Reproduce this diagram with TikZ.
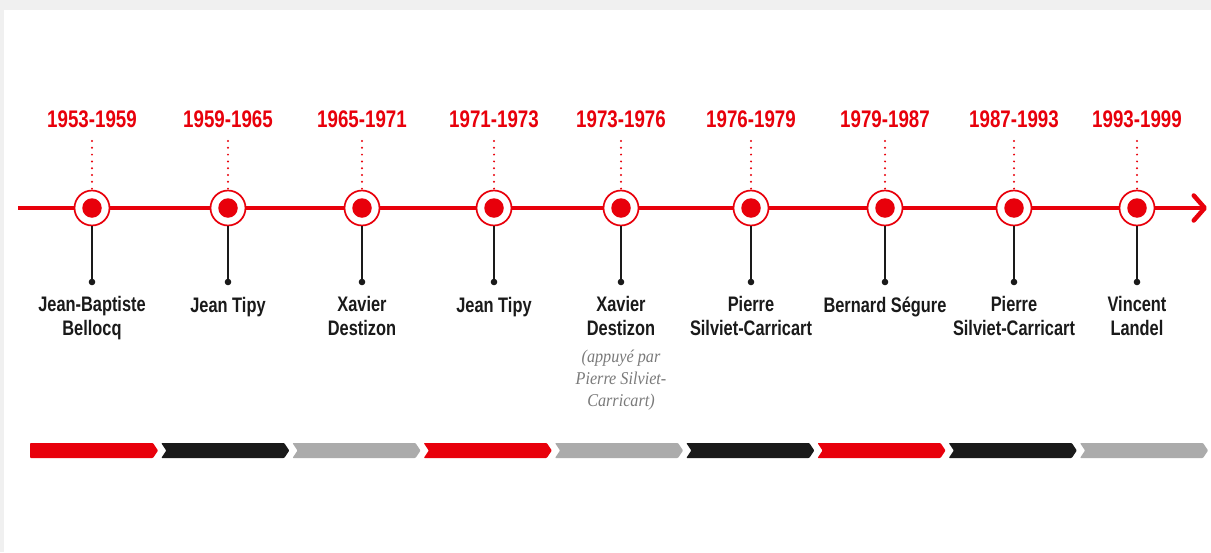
\documentclass[tikz,border=0pt]{standalone}
\usepackage{fontspec}
\setmainfont{Liberation Sans}
\newfontfamily\condfont[FakeStretch=0.78]{Liberation Sans}
\newfontfamily\notefont[FakeStretch=0.9]{Liberation Serif}
\usetikzlibrary{arrows.meta}
\definecolor{tlred}{HTML}{E8000B}
\definecolor{tlblack}{HTML}{1A1A1A}
\definecolor{tlgray}{HTML}{ABABAB}
\definecolor{notegray}{HTML}{7A7A7A}
\definecolor{framegray}{HTML}{F0F0F0}
\begin{document}
\begin{tikzpicture}[x=1pt,y=-1pt,
  year/.style={anchor=base, text=tlred, inner sep=0pt,
    font=\condfont\bfseries\fontsize{24}{28}\selectfont},
  person/.style={anchor=base, align=center, text=tlblack, inner sep=0pt,
    font=\condfont\bfseries\fontsize{21}{23.5}\selectfont},
  note/.style={anchor=base, align=center, text=notegray, inner sep=0pt,
    font=\notefont\itshape\fontsize{18}{22}\selectfont},
  ring/.style={circle, draw=tlred, line width=1.7pt, fill=white, minimum size=35pt, inner sep=0pt},
  core/.style={circle, fill=tlred, minimum size=19.5pt, inner sep=0pt},
  stem/.style={draw=tlblack, line width=1.8pt},
  tickline/.style={draw=tlred, line width=2.2pt, line cap=round, dash pattern=on 0pt off 6.8pt},
  axis/.style={draw=tlred, line width=4.5pt, -{Straight Barb[length=11pt,width=25pt,round]}}
]
\useasboundingbox (0,0) rectangle (1211,552);
\fill[framegray] (0,0) rectangle (1211,552);
\fill[white] (4,10) rectangle (1211,552);

% axis
\coordinate (axstart) at (18,208);
\coordinate (axend) at (1207,208);
\draw[axis] (axstart) -- (axend);

% events (last-line baseline given: 335 for two lines, 312 for one)
\foreach \i/\x/\yr/\by/\who in {
  1/92/1953-1959/335/{Jean-Baptiste\\Bellocq},
  2/228/1959-1965/312/{Jean Tipy},
  3/362/1965-1971/335/{Xavier\\Destizon},
  4/494/1971-1973/312/{Jean Tipy},
  5/621/1973-1976/335/{Xavier\\Destizon},
  6/751/1976-1979/335/{Pierre\\Silviet-Carricart},
  7/885/1979-1987/312/{Bernard Ségure},
  8/1014/1987-1993/335/{Pierre\\Silviet-Carricart},
  9/1137/1993-1999/335/{Vincent\\Landel}}{
  \node[year] (yr\i) at (\x,127) {\yr};
  \coordinate (tk\i) at (\x,141);
  \node[ring] (c\i) at (\x,208) {};
  \node[core] (k\i) at (c\i) {};
  \draw[tickline] (tk\i) -- (c\i.north);
  \coordinate (d\i) at (\x,282);
  \draw[stem] (c\i.south) -- (d\i);
  \fill[tlblack] (d\i) circle (3.3);
  \node[person] (p\i) at (\x,\by) {\who};
}
\node[note] (n5) at (621,406) {(appuyé par\\Pierre Silviet-\\Carricart)};

% bars
\foreach \i/\c in {0/tlred,1/tlblack,2/tlgray,3/tlred,4/tlgray,5/tlblack,6/tlred,7/tlblack,8/tlgray}{
  \pgfmathsetmacro{\L}{30+131.25*\i}
  \pgfmathsetmacro{\R}{\L+128}
  \ifnum\i=0
    \fill[\c, rounded corners=0.8pt] (\L,443) -- (\R-5,443) -- (\R,450.5) -- (\R-5,458) -- (\L,458) -- cycle;
  \else
    \fill[\c, rounded corners=0.8pt] (\L,443) -- (\R-5,443) -- (\R,450.5) -- (\R-5,458) -- (\L,458) -- (\L+5,450.5) -- cycle;
  \fi
}
\end{tikzpicture}
\end{document}
